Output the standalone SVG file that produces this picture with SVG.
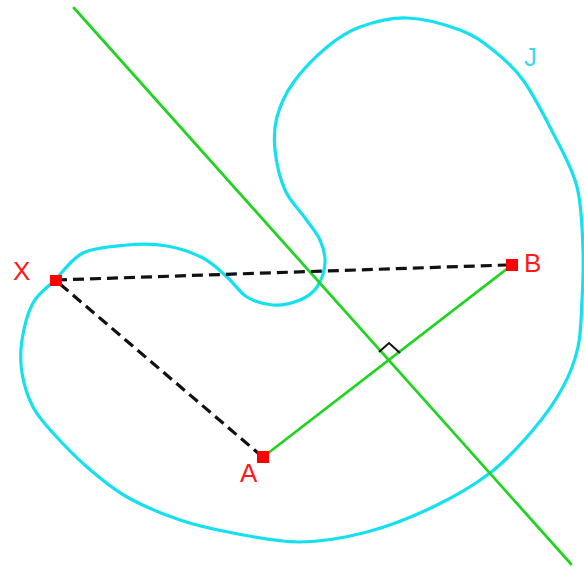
<svg xmlns="http://www.w3.org/2000/svg" width="584" height="567" viewBox="0 0 584 567">
<style>
.curve{fill:none;stroke:#14e0f0;stroke-width:3.2}
.green{fill:none;stroke:#22d422;stroke-width:2.8;stroke-linecap:round}
.dash{fill:none;stroke:#111;stroke-width:3.2;stroke-dasharray:11 6}
.mark{fill:none;stroke:#111;stroke-width:2}
.pt{fill:#ff0000}
.lbl{font-family:"Liberation Sans",Arial,sans-serif;font-size:26px;fill:#ff1a1a}
.jl{font-family:"Liberation Sans",Arial,sans-serif;font-size:26px;fill:#3ad8ee}
</style>
<rect width="584" height="567" fill="#ffffff"/>
<g id="curve-J">
<path class="curve" d="M55,280 C63.3,271.7 71,258.8 83,253 C95,247.2 113,246.2 127,245 C141,243.8 154.3,243.8 167,246 C179.7,248.2 193,252.8 203,258 C213,263.2 219.7,270.5 227,277 C234.3,283.5 239.3,292.3 247,297 C254.7,301.7 264.2,304.5 273,305 C281.8,305.5 292.7,303 300,300 C307.3,297 312.8,293.2 317,287 C321.2,280.8 324.5,270.8 325,263 C325.5,255.2 323.3,247.5 320,240 C316.7,232.5 310.8,226.3 305,218 C299.2,209.7 290,201.3 285,190 C280,178.7 276.3,162.2 275,150 C273.7,137.8 274,128.2 277,117 C280,105.8 284.7,94.7 293,83 C301.3,71.3 315.8,56.3 327,47 C338.2,37.7 346.7,31.8 360,27 C373.3,22.2 390.3,17.5 407,18 C423.7,18.5 445.7,24.7 460,30 C474.3,35.3 482.5,41.7 493,50 C503.5,58.3 513,66.2 523,80 C533,93.8 544,115.2 553,133 C562,150.8 572,167.5 577,187 C582,206.5 582.2,231.2 583,250 C583.8,268.8 582.8,283.8 582,300 C581.2,316.2 581.2,332.5 578,347 C574.8,361.5 570.5,373.2 563,387 C555.5,400.8 545.2,415.7 533,430 C520.8,444.3 506.7,460.2 490,473 C473.3,485.8 453.5,497.2 433,507 C412.5,516.8 389.2,526.2 367,532 C344.8,537.8 322.3,541.8 300,542 C277.7,542.2 253,536.7 233,533 C213,529.3 197.7,526 180,520 C162.3,514 142.5,505.8 127,497 C111.5,488.2 99.3,477.7 87,467 C74.7,456.3 62,443 53,433 C44,423 38.2,417 33,407 C27.8,397 23.8,384.2 22,373 C20.2,361.8 20.2,351.7 22,340 C23.8,328.3 27.5,313 33,303 C38.5,293 46.7,288.3 55,280 Z"/>
<text class="jl" x="524" y="66">J</text>
</g>
<g id="connectors">
<line class="green" x1="74" y1="8" x2="571" y2="564"/>
<line class="green" x1="263" y1="457" x2="512" y2="265"/>
<line class="dash" x1="56" y1="280" x2="506" y2="265"/>
<line class="dash" x1="60" y1="284" x2="258" y2="453"/>
<polyline class="mark" points="379,352 389,343 400,353"/>
</g>
<g id="node-X">
<rect class="pt" x="50" y="275" width="12" height="11"/>
<text class="lbl" x="13" y="280">X</text>
</g>
<g id="node-A">
<rect class="pt" x="257" y="451" width="12" height="12"/>
<text class="lbl" x="240" y="482">A</text>
</g>
<g id="node-B">
<rect class="pt" x="506" y="259" width="12" height="12"/>
<text class="lbl" x="524" y="272">B</text>
</g>
</svg>
